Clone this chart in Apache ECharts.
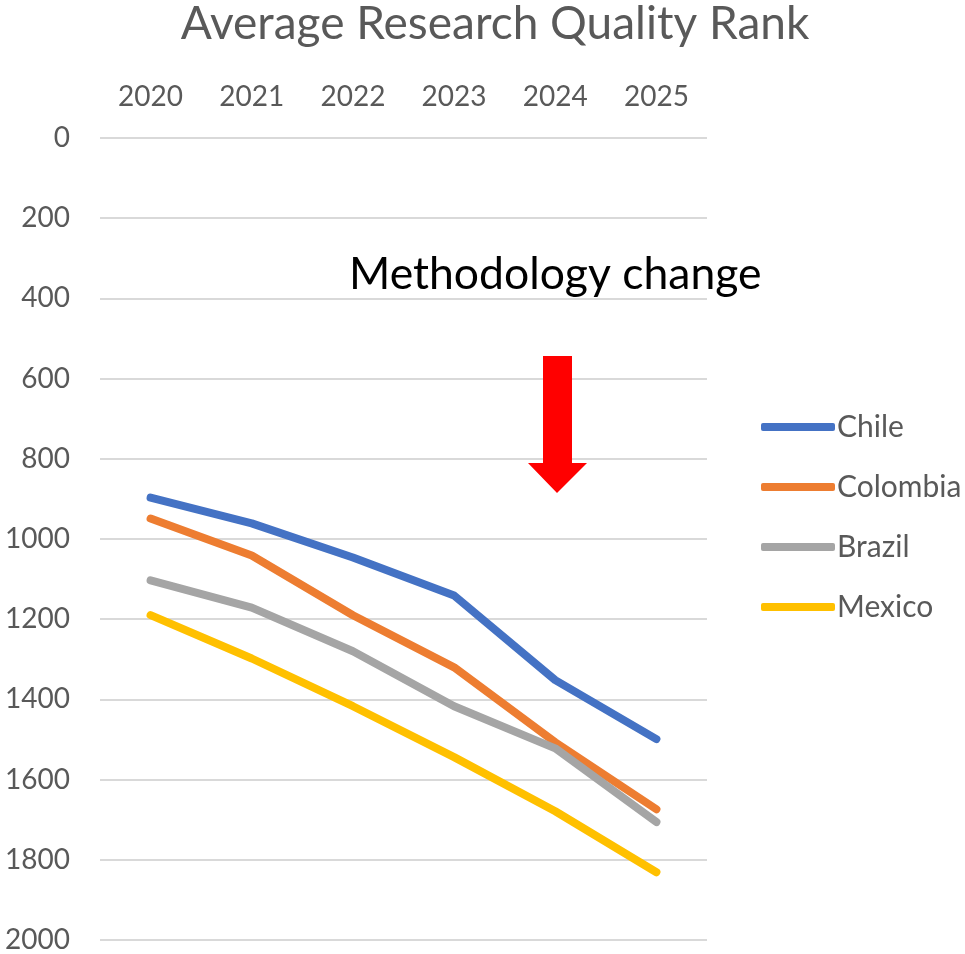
<!DOCTYPE html>
<html>
<head>
<meta charset="utf-8">
<script src="https://cdn.jsdelivr.net/npm/echarts@6/dist/echarts.min.js"></script>
<style>
  html, body { margin: 0; padding: 0; background: #ffffff; }
  #chart { width: 965px; height: 954px; }
</style>
</head>
<body>
<div id="chart"></div>
<script>
// Years on the (top) category axis
const years = ['2020', '2021', '2022', '2023', '2024', '2025'];

// Average research quality rank per country (lower rank number = better)
const chile    = [897, 961, 1046, 1141, 1352, 1499];
const colombia = [949, 1041, 1190, 1320, 1507, 1674];
const brazil   = [1103, 1171, 1280, 1417, 1522, 1706];
const mexico   = [1190, 1298, 1417, 1544, 1679, 1831];

// Rank axis ticks
const rankTicks = [0, 200, 400, 600, 800, 1000, 1200, 1400, 1600, 1800, 2000];

const FONT = 'Lato, "Open Sans", sans-serif';
const GREY = '#595959';

const chart = echarts.init(document.getElementById('chart'), null, { renderer: 'canvas' });

function lineSeries(name, data, color) {
  return {
    name: name,
    type: 'line',
    data: data,
    symbol: 'none',
    smooth: false,
    color: color,
    lineStyle: { width: 8, color: color, cap: 'round', join: 'round' },
    emphasis: { disabled: true }
  };
}

chart.setOption({
  backgroundColor: '#ffffff',
  animation: false,
  title: {
    text: 'Average Research Quality Rank',
    left: 490,
    top: -4,
    textAlign: 'center',
    textStyle: { fontFamily: FONT, fontSize: 46, fontWeight: 'normal', color: GREY }
  },
  grid: { left: 100, right: 258, top: 138, bottom: 13, containLabel: false },
  legend: {
    orient: 'vertical',
    left: 756,
    top: 406,
    icon: 'roundRect',
    itemWidth: 74,
    itemHeight: 8,
    itemGap: 28,
    textStyle: { fontFamily: FONT, fontSize: 30, color: GREY, lineHeight: 32, padding: [0, 0, 0, -3] },
    data: ['Chile', 'Colombia', 'Brazil', 'Mexico']
  },
  xAxis: {
    type: 'category',
    position: 'top',
    data: years,
    boundaryGap: true,
    axisLine: { show: false },
    axisTick: { show: false },
    axisLabel: { fontFamily: FONT, fontSize: 28, color: GREY, margin: 27 }
  },
  yAxis: {
    type: 'value',
    inverse: true,
    min: rankTicks[0],
    max: rankTicks[rankTicks.length - 1],
    interval: rankTicks[1] - rankTicks[0],
    axisLine: { show: false },
    axisTick: { show: false },
    axisLabel: { fontFamily: FONT, fontSize: 28, color: GREY, margin: 30, formatter: (v) => String(v) },
    splitLine: { lineStyle: { color: '#d9d9d9', width: 2 } }
  },
  series: [
    lineSeries('Chile', chile, '#4472c4'),
    lineSeries('Colombia', colombia, '#ed7d31'),
    lineSeries('Brazil', brazil, '#a5a5a5'),
    lineSeries('Mexico', mexico, '#ffc000')
  ],
  graphic: [
    {
      type: 'text',
      left: 349,
      top: 252,
      z: 100,
      style: {
        text: 'Methodology change',
        fontFamily: FONT,
        fontSize: 44.5,
        fill: '#000000'
      }
    },
    {
      type: 'polygon',
      z: 100,
      shape: {
        points: [[543, 356], [572, 356], [572, 463], [587, 463], [557, 493], [528, 463], [543, 463]]
      },
      style: { fill: '#ff0000' }
    }
  ]
});
</script>
</body>
</html>
